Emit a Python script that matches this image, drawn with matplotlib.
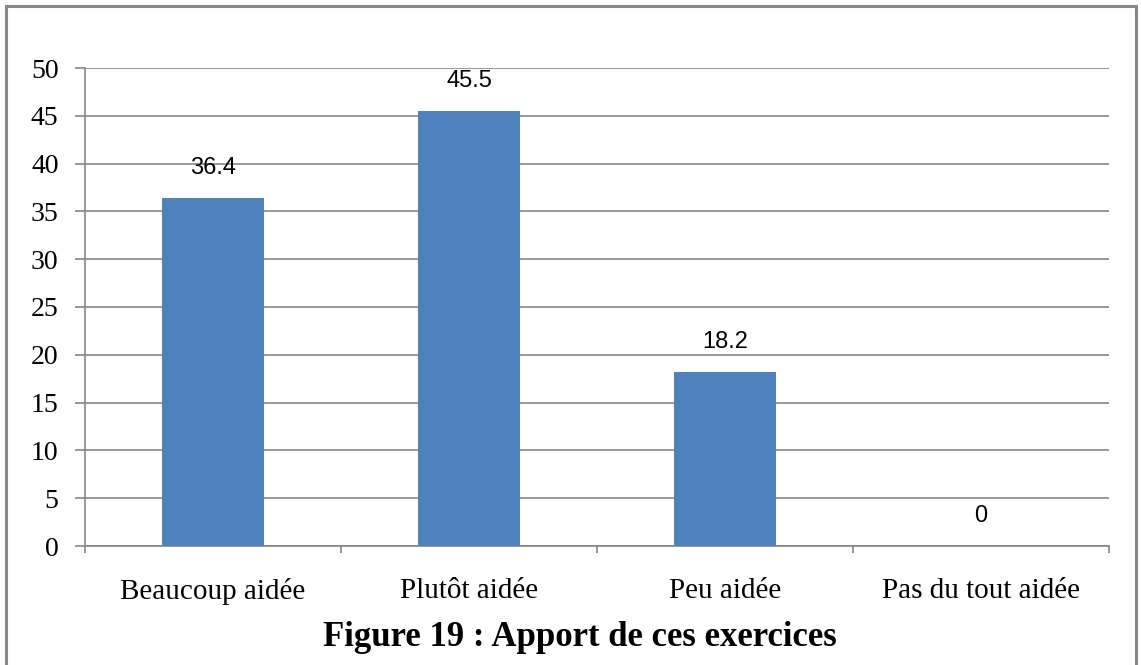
import matplotlib.pyplot as plt
from matplotlib.patches import Rectangle
import numpy as np

# Chart data
categories = ['Beaucoup aidée', 'Plutôt aidée', 'Peu aidée', 'Pas du tout aidée']
values = [36.4, 45.5, 18.2, 0]
value_labels = ['36.4', '45.5', '18.2', '0']
y_ticks = [0, 5, 10, 15, 20, 25, 30, 35, 40, 45, 50]
title = 'Figure 19 : Apport de ces exercices'

grid_color = '#868686'
bar_color = '#4F81BD'

fig = plt.figure(figsize=(11.41, 6.65), dpi=100)
ax = fig.add_axes([85 / 1141, 1 - 546 / 665, (1109 - 85) / 1141, (546 - 68) / 665])

x = np.arange(len(categories))
ax.bar(x, values, width=0.4, color=bar_color, zorder=3)

# value labels above bars
for xi, v, lab in zip(x, values, value_labels):
    ax.annotate(lab, (xi, v), xytext=(0, 14), textcoords='offset points',
                ha='center', va='bottom', fontsize=17, family='Liberation Sans', color='#000000')

ax.set_xlim(-0.5, len(categories) - 0.5)
ax.set_ylim(0, 50)
ax.set_yticks(y_ticks)
ax.set_yticklabels([str(t) for t in y_ticks], family='Liberation Serif', fontsize=20)
ax.yaxis.grid(True, color=grid_color, linewidth=1.2, zorder=0)
ax.tick_params(axis='y', length=7, width=1.2, color=grid_color, pad=12)

# category labels on major ticks, tick marks on category boundaries
ax.set_xticks(x)
ax.set_xticklabels(categories, family='Liberation Serif', fontsize=21)
ax.tick_params(axis='x', which='major', length=0, pad=23)
ax.set_xticks(np.arange(-0.5, len(categories)), minor=True)
ax.tick_params(axis='x', which='minor', length=5, width=1.2, color=grid_color)

for s in ['top', 'right']:
    ax.spines[s].set_visible(False)
for s in ['left', 'bottom']:
    ax.spines[s].set_color(grid_color)
    ax.spines[s].set_linewidth(1.2)

fig.text(580 / 1141, 1 - 646 / 665, title, ha='center', va='baseline',
         family='Liberation Serif', fontweight='bold', fontsize=25)

# frame around the figure (bottom edge cut off in the original)
fig.patches.append(Rectangle((6 / 1141, -0.05), (1136 - 6) / 1141, 1.05 - 6 / 665,
                             transform=fig.transFigure, fill=False,
                             edgecolor='#888888', linewidth=2.2))

fig.savefig('out.png', dpi=100)
